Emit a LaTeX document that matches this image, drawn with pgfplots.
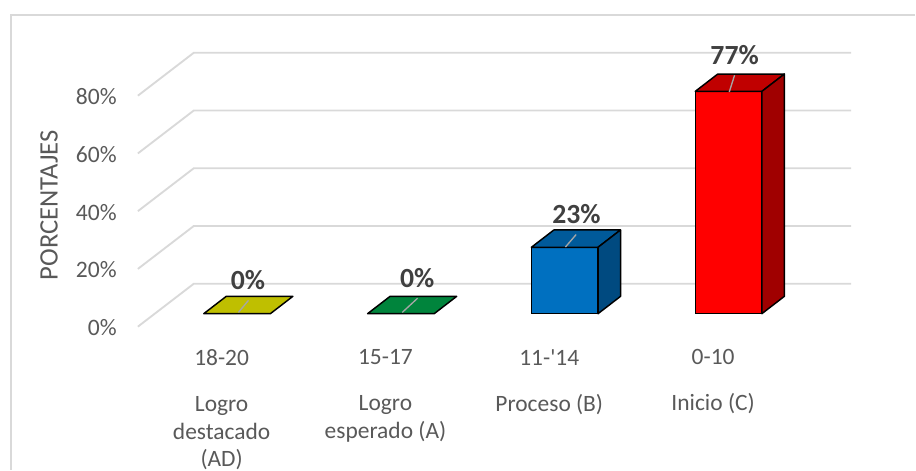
\documentclass[border=0pt]{standalone}
\usepackage{fontspec}
\setmainfont{Carlito}
\newfontfamily\plaincarlito{Carlito}
\usepackage{pgfplots}
\pgfplotsset{compat=1.18}
\definecolor{gridc}{HTML}{D9D9D9}
\definecolor{tickc}{HTML}{595959}
\definecolor{labc}{HTML}{404040}
\definecolor{leadc}{HTML}{A6A6A6}
\definecolor{yel}{HTML}{BFBF00}
\definecolor{grn}{HTML}{00843C}
\definecolor{blufront}{HTML}{0070C0}
\definecolor{blutop}{HTML}{005A9A}
\definecolor{bluside}{HTML}{004A80}
\definecolor{redtop}{HTML}{C00000}
\definecolor{redside}{HTML}{A00000}
\pgfplotsset{
  frontbar/.style={ybar, bar shift=0pt, bar width=50pt, draw=black, line width=1.1pt},
  face/.style={draw=black, line width=1.1pt, line join=round, forget plot},
  wall/.style={color=gridc, line width=1.4pt, forget plot},
  leader/.style={color=leadc, line width=1pt, forget plot},
  vlabel/.style={draw=none, mark=none, forget plot, point meta=explicit symbolic,
    nodes near coords, every node near coord/.style={anchor=center, inner sep=0pt,
    text=labc, font=\fontsize{20.8}{24}\selectfont\bfseries}},
}
\begin{document}
\begin{tikzpicture}
\begin{axis}[
  scale only axis, width=687pt, height=352.5pt,
  xmin=-1.4470, xmax=4.1384, ymin=-53.98, ymax=108.65,
  axis line style={draw=none}, tick style={draw=none},
  clip=false,
  /pgf/number format/assume math mode=true,
  xtick={0,1,2,3},
  xticklabels={{18-20\\[14.2pt]Logro\\destacado\\(AD)},{15-17\\[14.2pt]Logro\\esperado (A)},{11-{\plaincarlito'}14\\[14.2pt]Proceso (B)},{0-10\\[14.2pt]Inicio (C)}},
  xticklabel style={align=center, anchor=north, inner sep=0pt, xshift=-11.6pt, yshift=90.5pt,
    text=tickc, font=\fontsize{17.6}{20.6}\selectfont},
  ytick={-4.5,15.5,35.5,55.5,75.5},
  yticklabels={0\%,20\%,40\%,60\%,80\%},
  yticklabel style={anchor=east, inner sep=0pt, xshift=87.75pt, yshift=-0.8pt,
    text=tickc, font=\fontsize{17.7}{20}\selectfont},
  ylabel={PORCENTAJES},
  every axis y label/.style={at={(axis cs:-1.1477,37.6)}, rotate=90, anchor=center, inner sep=0pt,
    text=tickc, font=\fontsize{20}{22}\selectfont},
]
% chart frame, open on the right
\addplot[color=gridc, line width=1.4pt, forget plot] coordinates {(-1.3799,-53.98) (-1.3799,103.46) (4.1384,103.46)};
% walls and gridlines
\addplot[wall] coordinates {(-0.6055,-4.5) (-0.2640,10.38) (3.7482,10.38)};
\addplot[wall] coordinates {(-0.6055,15.5) (-0.2640,30.38) (3.7482,30.38)};
\addplot[wall] coordinates {(-0.6055,35.5) (-0.2640,50.38) (3.7482,50.38)};
\addplot[wall] coordinates {(-0.6055,55.5) (-0.2640,70.38) (3.7482,70.38)};
\addplot[wall] coordinates {(-0.6055,75.5) (-0.2640,90.38) (3.7482,90.38)};
% 18-20
\addplot[face, fill=yel] coordinates {(-0.2033,0) (0.2033,0) (0.3405,6) (-0.0661,6)} -- cycle;
% 15-17
\addplot[face, fill=grn] coordinates {(0.7967,0) (1.2033,0) (1.3405,6) (0.9339,6)} -- cycle;
% 11-14
\addplot[frontbar, fill=blufront] coordinates {(2,23)};
\addplot[face, fill=blutop] coordinates {(1.7967,23) (2.2033,23) (2.3405,29) (1.9339,29)} -- cycle;
\addplot[face, fill=bluside] coordinates {(2.2033,0) (2.3405,6) (2.3405,29) (2.2033,23)} -- cycle;
% 0-10
\addplot[frontbar, fill=red] coordinates {(3,77)};
\addplot[face, fill=redtop] coordinates {(2.7967,77) (3.2033,77) (3.3405,83) (2.9339,83)} -- cycle;
\addplot[face, fill=redside] coordinates {(3.2033,0) (3.3405,6) (3.3405,83) (3.2033,77)} -- cycle;
% leader lines
\addplot[leader] coordinates {(0.0085,0.45) (0.0695,4.6)};
\addplot[leader] coordinates {(1.0085,0.45) (1.1020,5.36)};
\addplot[leader] coordinates {(2.0043,23.08) (2.0695,27.4)};
\addplot[leader] coordinates {(3.0043,76.8) (3.0366,82.6)};
% value labels
\addplot[vlabel] coordinates {(0.067,11.76) [0\%] (1.100,12.35) [0\%] (2.0713,34.6) [23\%] (3.037,89.6) [77\%]};
\end{axis}
\end{tikzpicture}
\end{document}
